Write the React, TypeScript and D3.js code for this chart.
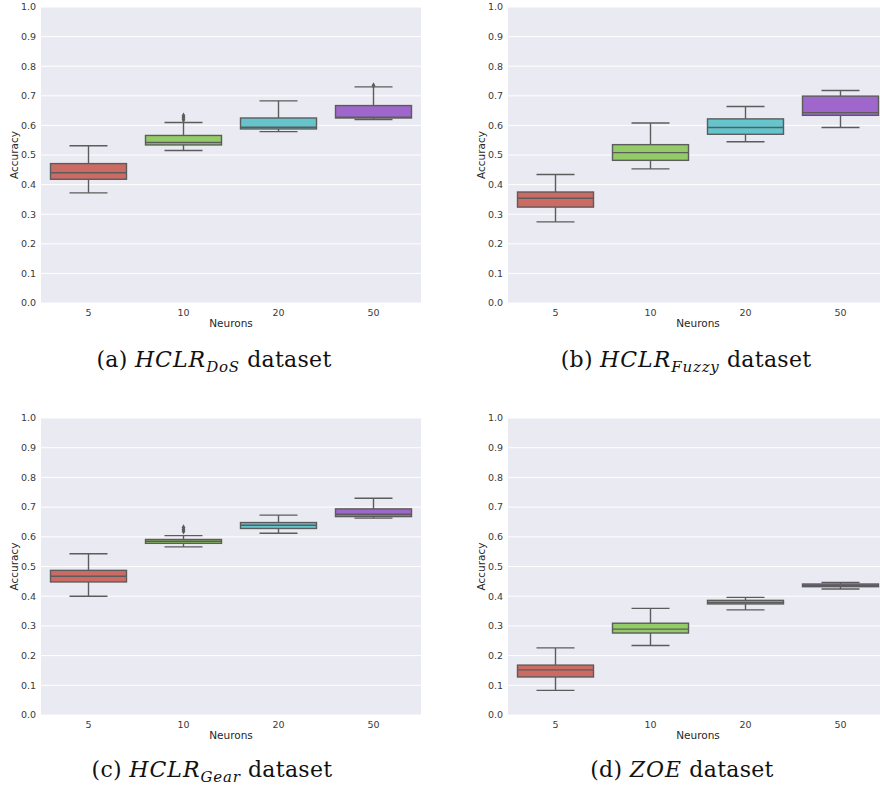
import React from 'react';
import * as d3 from 'd3';

const categories = ['5', '10', '20', '50'];
const yTicks = [0, 0.1, 0.2, 0.3, 0.4, 0.5, 0.6, 0.7, 0.8, 0.9, 1.0];
const palette = ['#cc6b64', '#93cc66', '#66c5cc', '#9f66cc'];

// [lowerWhisker, Q1, median, Q3, upperWhisker]
const dosStats = [
  [0.372, 0.418, 0.44, 0.471, 0.531],
  [0.515, 0.534, 0.542, 0.566, 0.61],
  [0.579, 0.588, 0.594, 0.625, 0.683],
  [0.62, 0.625, 0.628, 0.667, 0.73],
];
const dosOutliers = [[], [0.619, 0.627, 0.633], [], [0.735]];

const fuzzyStats = [
  [0.274, 0.324, 0.354, 0.375, 0.434],
  [0.453, 0.482, 0.508, 0.535, 0.608],
  [0.545, 0.57, 0.593, 0.622, 0.664],
  [0.593, 0.634, 0.643, 0.699, 0.718],
];
const fuzzyOutliers = [[], [], [], []];

const gearStats = [
  [0.4, 0.448, 0.467, 0.487, 0.543],
  [0.566, 0.578, 0.585, 0.591, 0.604],
  [0.612, 0.628, 0.639, 0.648, 0.673],
  [0.663, 0.668, 0.676, 0.694, 0.73],
];
const gearOutliers = [[], [0.619, 0.625, 0.631], [], []];

const zoeStats = [
  [0.083, 0.128, 0.152, 0.168, 0.226],
  [0.234, 0.276, 0.289, 0.309, 0.359],
  [0.354, 0.374, 0.379, 0.386, 0.396],
  [0.424, 0.432, 0.436, 0.441, 0.446],
];
const zoeOutliers = [[], [], [], []];

const xLabel = 'Neurons';
const yLabel = 'Accuracy';

const GRAY = '#5c5c5c';
const TICK = '#3a3a3a';
const SANS = '"DejaVu Sans", sans-serif';
const SERIF = '"DejaVu Serif", serif';

type PanelProps = {
  x0: number; x1: number; y0: number; y1: number;
  stats: number[][]; outliers: number[][];
};

function Panel({ x0, x1, y0, y1, stats, outliers }: PanelProps) {
  const x = d3.scaleBand<string>().domain(categories).range([x0, x1]).padding(0);
  const y = d3.scaleLinear().domain([0, 1]).range([y1, y0]);
  const bw = x.bandwidth() * 0.8;
  const capW = bw / 2;
  const diamond = d3.symbol().type(d3.symbolDiamond).size(12)();
  return (
    <g>
      <rect x={x0} y={y0} width={x1 - x0} height={y1 - y0} fill="#eaeaf2" />
      {yTicks.map((t) => (
        <line key={'g' + t} x1={x0} x2={x1} y1={y(t)} y2={y(t)} stroke="#ffffff" strokeWidth={1} />
      ))}
      {yTicks.map((t) => (
        <text key={'t' + t} x={x0 - 5} y={y(t)} dy="0.35em" textAnchor="end" fontFamily={SANS} fontSize={9.5} fill={TICK}>
          {d3.format('.1f')(t)}
        </text>
      ))}
      {categories.map((c) => (
        <text key={'x' + c} x={(x(c) as number) + x.bandwidth() / 2} y={y1 + 12.5} textAnchor="middle" fontFamily={SANS} fontSize={9.5} fill={TICK}>
          {c}
        </text>
      ))}
      <text x={(x0 + 380 / 2)} y={y1 + 24} textAnchor="middle" fontFamily={SANS} fontSize={10.5} fill="#262626">{xLabel}</text>
      <text transform={`translate(${x0 - 23},${(y0 + y1) / 2}) rotate(-90)`} textAnchor="middle" fontFamily={SANS} fontSize={10.5} fill="#262626">{yLabel}</text>
      {categories.map((c, i) => {
        const cx = (x(c) as number) + x.bandwidth() / 2;
        const [lo, q1, med, q3, hi] = stats[i];
        return (
          <g key={'b' + c}>
            <line x1={cx} x2={cx} y1={y(q3)} y2={y(hi)} stroke={GRAY} strokeWidth={1.4} />
            <line x1={cx} x2={cx} y1={y(q1)} y2={y(lo)} stroke={GRAY} strokeWidth={1.4} />
            <line x1={cx - capW / 2} x2={cx + capW / 2} y1={y(hi)} y2={y(hi)} stroke={GRAY} strokeWidth={1.4} />
            <line x1={cx - capW / 2} x2={cx + capW / 2} y1={y(lo)} y2={y(lo)} stroke={GRAY} strokeWidth={1.4} />
            <rect x={cx - bw / 2} y={y(q3)} width={bw} height={y(q1) - y(q3)} fill={palette[i]} stroke={GRAY} strokeWidth={1.4} />
            <line x1={cx - bw / 2} x2={cx + bw / 2} y1={y(med)} y2={y(med)} stroke={GRAY} strokeWidth={1.4} />
            {outliers[i].map((o, k) => (
              <path key={k} d={diamond as string} transform={`translate(${cx},${y(o)})`} fill={GRAY} />
            ))}
          </g>
        );
      })}
    </g>
  );
}

function Caption({ cx, y, label, main, sub }: { cx: number; y: number; label: string; main: string; sub?: string }) {
  return (
    <text x={cx} y={y} textAnchor="middle" fontFamily={SERIF} fontSize={22} fill="#111" letterSpacing={0.3}>
      <tspan>{label} </tspan>
      <tspan fontStyle="italic" letterSpacing={1}>{main}</tspan>
      {sub ? <tspan fontStyle="italic" fontSize={15} dy={5} letterSpacing={0.8}>{sub}</tspan> : null}
      <tspan dy={sub ? -5 : 0}> dataset</tspan>
    </text>
  );
}

export default function App() {
  return (
    <svg width={880} height={792} style={{ position: 'absolute', left: 0, top: 0, background: '#fff' }}>
      <Panel x0={41} x1={421} y0={7} y1={303} stats={dosStats} outliers={dosOutliers} />
      <Panel x0={508} x1={888} y0={7} y1={303} stats={fuzzyStats} outliers={fuzzyOutliers} />
      <Panel x0={41} x1={421} y0={418} y1={715} stats={gearStats} outliers={gearOutliers} />
      <Panel x0={508} x1={888} y0={418} y1={715} stats={zoeStats} outliers={zoeOutliers} />
      <Caption cx={214} y={367} label="(a)" main="HCLR" sub="DoS" />
      <Caption cx={686} y={367} label="(b)" main="HCLR" sub="Fuzzy" />
      <Caption cx={212} y={777} label="(c)" main="HCLR" sub="Gear" />
      <Caption cx={682} y={777} label="(d)" main="ZOE" />
    </svg>
  );
}
